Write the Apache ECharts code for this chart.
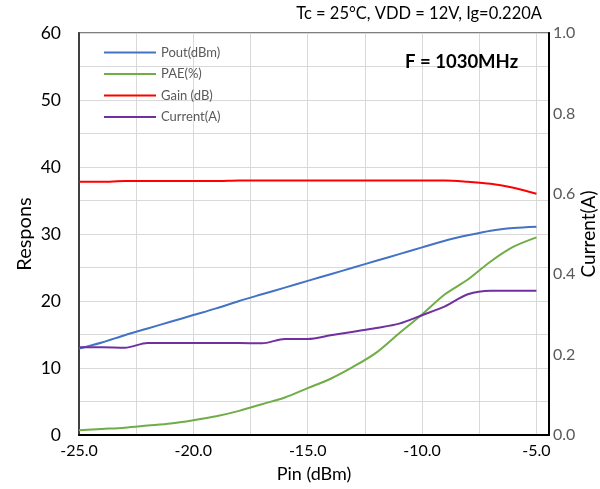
<!DOCTYPE html>
<html><head><meta charset="utf-8">
<script src="https://cdn.jsdelivr.net/npm/echarts@6/dist/echarts.min.js"></script>
<style>html,body{margin:0;padding:0;background:#fff}#c{width:600px;height:489px}</style>
</head><body><div id="c"></div>
<script>
const pin = [-25,-24,-23,-22,-21,-20,-19,-18,-17,-16,-15,-14,-13,-12,-11,-10,-9,-8,-7,-6,-5];
const pout = [12.9,13.8,14.9,15.9,16.9,17.9,18.9,20.0,21.0,22.0,23.0,24.0,25.0,26.0,27.0,28.0,29.0,29.8,30.5,30.9,31.1];
const pae = [0.7,0.9,1.1,1.4,1.7,2.2,2.8,3.6,4.6,5.6,7.0,8.4,10.2,12.3,15.2,18.0,21.0,23.2,25.9,28.1,29.5];
const gain = [37.8,37.8,37.9,37.9,37.9,37.9,37.9,38.0,38.0,38.0,38.0,38.0,38.0,38.0,38.0,38.0,38.0,37.8,37.5,36.9,36.0];
const current = [0.218,0.218,0.217,0.229,0.229,0.229,0.229,0.229,0.228,0.239,0.239,0.248,0.257,0.266,0.277,0.298,0.320,0.350,0.359,0.359,0.359];
const seriesNames = ['Pout(dBm)','PAE(%)','Gain (dB)','Current(A)'];
const titleText = 'Tc = 25°C, VDD = 12V, Ig=0.220A';
const freqText = 'F = 1030MHz';

const FONT = 'Lato';
const pair = arr => pin.map((x,i)=>[x,arr[i]]);
const chart = echarts.init(document.getElementById('c'), null, {renderer:'canvas'});
chart.setOption({
  animation:false,
  textStyle:{fontFamily:FONT},
  grid:{left:79,right:51,top:33,bottom:54,outerBoundsMode:'none',containLabel:false,
        show:true,borderColor:'#7f7f7f',borderWidth:2,backgroundColor:'transparent'},
  title:[
    {text:titleText,right:58,top:5,padding:0,textStyle:{fontSize:16.5,fontWeight:'normal',color:'#000',fontFamily:FONT}},
    {text:freqText,left:405,top:53,padding:0,textStyle:{fontSize:18.5,fontWeight:'bold',color:'#000',fontFamily:FONT}}
  ],
  legend:{
    orient:'vertical',left:104,top:46,padding:0,itemWidth:52,itemHeight:2,itemGap:8.5,icon:'rect',
    textStyle:{fontSize:13,color:'#595959',fontFamily:FONT},
    data:seriesNames
  },
  xAxis:{
    type:'value',min:-25,max:-4.45,interval:2.5,
    name:'Pin (dBm)',nameLocation:'middle',nameGap:30,nameMoveOverlap:false,
    nameTextStyle:{fontSize:18,color:'#000',fontFamily:FONT},
    axisLine:{show:true,lineStyle:{color:'#000',width:2}},
    axisTick:{show:false},
    axisLabel:{fontSize:16,color:'#000',fontFamily:FONT,margin:8,
      formatter:v=>(Math.abs(v%5)<1e-9 ? v.toFixed(1) : '')},
    splitLine:{show:true,lineStyle:{color:'#d9d9d9',width:1}}
  },
  yAxis:[
    {type:'value',min:0,max:60,interval:5,
     name:'Respons',nameLocation:'middle',nameGap:44,nameRotate:90,nameMoveOverlap:false,
     nameTextStyle:{fontSize:20,color:'#000',fontFamily:FONT},
     axisLine:{show:true,lineStyle:{color:'#404040',width:2}},
     axisTick:{show:false},
     axisLabel:{fontSize:17.5,color:'#000',fontFamily:FONT,margin:18,
       formatter:v=>(v%10===0 ? String(v) : '')},
     splitLine:{show:true,lineStyle:{color:'#d9d9d9',width:1}}},
    {type:'value',min:0,max:1,interval:0.2,position:'right',
     name:'Current(A)',nameLocation:'middle',nameGap:30,nameRotate:90,nameMoveOverlap:false,
     nameTextStyle:{fontSize:19,color:'#000',fontFamily:FONT},
     axisLine:{show:true,lineStyle:{color:'#000',width:2}},
     axisTick:{show:false},
     axisLabel:{fontSize:16,color:'#595959',fontFamily:FONT,margin:4,formatter:v=>v.toFixed(1)},
     splitLine:{show:false}}
  ],
  series:[
    {name:seriesNames[0],type:'line',data:pair(pout),smooth:0.3,showSymbol:false,lineStyle:{color:'#4472C4',width:2},itemStyle:{color:'#4472C4'}},
    {name:seriesNames[1],type:'line',data:pair(pae),smooth:0.3,showSymbol:false,lineStyle:{color:'#70AD47',width:2},itemStyle:{color:'#70AD47'}},
    {name:seriesNames[2],type:'line',data:pair(gain),smooth:0.3,showSymbol:false,lineStyle:{color:'#FF0000',width:2},itemStyle:{color:'#FF0000'}},
    {name:seriesNames[3],type:'line',yAxisIndex:1,data:pair(current),smooth:0.3,showSymbol:false,lineStyle:{color:'#7030A0',width:2},itemStyle:{color:'#7030A0'}}
  ]
});
</script></body></html>
